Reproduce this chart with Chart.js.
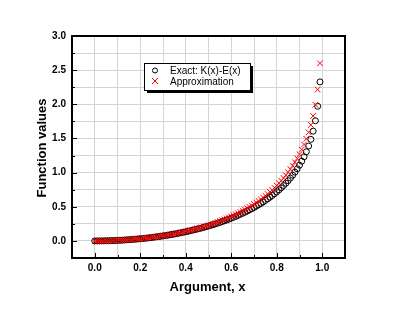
<!DOCTYPE html>
<html><head><meta charset="utf-8">
<script src="https://cdn.jsdelivr.net/npm/chart.js@4.4.1/dist/chart.umd.min.js"></script>
<style>html,body{margin:0;padding:0;background:#fff;}#wrap{width:400px;height:309px;position:relative;}</style>
</head><body><div id="wrap"><canvas id="c" width="400" height="309"></canvas></div>
<script>
const xValues = [0.00,0.01,0.02,0.03,0.04,0.05,0.06,0.07,0.08,0.09,
 0.10,0.11,0.12,0.13,0.14,0.15,0.16,0.17,0.18,0.19,
 0.20,0.21,0.22,0.23,0.24,0.25,0.26,0.27,0.28,0.29,
 0.30,0.31,0.32,0.33,0.34,0.35,0.36,0.37,0.38,0.39,
 0.40,0.41,0.42,0.43,0.44,0.45,0.46,0.47,0.48,0.49,
 0.50,0.51,0.52,0.53,0.54,0.55,0.56,0.57,0.58,0.59,
 0.60,0.61,0.62,0.63,0.64,0.65,0.66,0.67,0.68,0.69,
 0.70,0.71,0.72,0.73,0.74,0.75,0.76,0.77,0.78,0.79,
 0.80,0.81,0.82,0.83,0.84,0.85,0.86,0.87,0.88,0.89,
 0.90,0.91,0.92,0.93,0.94,0.95,0.96,0.97,0.98,0.99];
const exactValues = [0,0.000,0.000,0.001,0.001,0.002,0.003,0.004,0.005,0.006,
 0.008,0.010,0.011,0.013,0.016,0.018,0.020,0.023,0.026,0.029,
 0.032,0.035,0.039,0.042,0.046,0.050,0.055,0.059,0.063,0.068,
 0.073,0.078,0.084,0.089,0.095,0.101,0.107,0.114,0.120,0.127,
 0.134,0.141,0.149,0.157,0.165,0.173,0.181,0.190,0.199,0.209,
 0.218,0.228,0.238,0.249,0.260,0.271,0.283,0.295,0.307,0.320,
 0.333,0.346,0.360,0.375,0.390,0.405,0.421,0.437,0.454,0.472,
 0.490,0.509,0.529,0.549,0.570,0.593,0.616,0.640,0.665,0.691,
 0.719,0.748,0.779,0.811,0.845,0.882,0.921,0.962,1.007,1.056,
 1.109,1.167,1.232,1.305,1.389,1.487,1.607,1.759,1.971,2.328];
const approxValues = [0,0.000,0.000,0.001,0.001,0.002,0.003,0.004,0.005,0.006,
 0.008,0.010,0.011,0.013,0.016,0.018,0.020,0.023,0.026,0.029,
 0.032,0.036,0.039,0.043,0.047,0.051,0.055,0.060,0.065,0.070,
 0.075,0.080,0.086,0.091,0.097,0.104,0.110,0.117,0.124,0.131,
 0.139,0.147,0.155,0.163,0.172,0.181,0.190,0.199,0.209,0.220,
 0.230,0.241,0.253,0.264,0.276,0.289,0.302,0.315,0.329,0.344,
 0.358,0.374,0.390,0.406,0.423,0.441,0.460,0.479,0.498,0.519,
 0.540,0.563,0.586,0.610,0.635,0.661,0.688,0.717,0.747,0.778,
 0.811,0.845,0.882,0.920,0.961,1.004,1.050,1.099,1.152,1.208,
 1.270,1.338,1.412,1.495,1.590,1.699,1.830,1.993,2.216,2.600];
const xTickLabels = ['0.0','0.2','0.4','0.6','0.8','1.0'];
const yTickLabels = ['0.0','0.5','1.0','1.5','2.0','2.5','3.0'];
const seriesNames = ['Exact: K(x)-E(x)','Approximation'];
const xTitle = 'Argument, x';
const yTitle = 'Function values';

const FONT = '"Liberation Sans", Arial, sans-serif';
function labelFor(v, list){
  for (const s of list){ if (Math.abs(parseFloat(s) - v) < 1e-6) return s; }
  return '';
}
const decorPlugin = {
  id: 'decor',
  afterDraw(chart){
    const ctx = chart.ctx, a = chart.chartArea;
    const xs = chart.scales.x, ys = chart.scales.y;
    ctx.save();
    // inward ticks
    ctx.strokeStyle = '#000'; ctx.lineWidth = 1;
    xs.ticks.forEach(t => {
      const px = Math.round(xs.getPixelForValue(t.value)) + 0.5;
      const len = labelFor(t.value, xTickLabels) ? 5 : 3;
      ctx.beginPath(); ctx.moveTo(px, a.bottom); ctx.lineTo(px, a.bottom - len); ctx.stroke();
    });
    ys.ticks.forEach(t => {
      const py = Math.round(ys.getPixelForValue(t.value)) + 0.5;
      const len = labelFor(t.value, yTickLabels) ? 5 : 3;
      ctx.beginPath(); ctx.moveTo(a.left, py); ctx.lineTo(a.left + len, py); ctx.stroke();
    });
    // frame
    ctx.lineWidth = 2;
    ctx.strokeRect(a.left, a.top, a.right - a.left, a.bottom - a.top);
    // axis titles
    ctx.fillStyle = '#000';
    ctx.font = 'bold 13px ' + FONT;
    ctx.textAlign = 'center'; ctx.textBaseline = 'middle';
    ctx.fillText(xTitle, (a.left + a.right) / 2 - 1, 287);
    ctx.save();
    ctx.translate(42, (a.top + a.bottom) / 2 + 1);
    ctx.rotate(-Math.PI / 2);
    ctx.fillText(yTitle, 0, 0);
    ctx.restore();
    // legend box
    const bx = 144, by = 63, bw = 106, bh = 27;
    ctx.fillStyle = '#000';
    ctx.fillRect(bx + 3, by + 3, bw, bh);
    ctx.fillStyle = '#fff';
    ctx.fillRect(bx, by, bw, bh);
    ctx.lineWidth = 1; ctx.strokeStyle = '#000';
    ctx.strokeRect(bx + 0.5, by + 0.5, bw, bh);
    ctx.beginPath(); ctx.arc(155, 70.5, 2.5, 0, Math.PI * 2); ctx.stroke();
    ctx.strokeStyle = '#ff0000';
    ctx.beginPath(); ctx.moveTo(152, 78); ctx.lineTo(158, 84); ctx.moveTo(158, 78); ctx.lineTo(152, 84); ctx.stroke();
    ctx.fillStyle = '#000';
    ctx.font = '10px ' + FONT;
    ctx.textAlign = 'left';
    ctx.fillText(seriesNames[0], 170, 71);
    ctx.fillText(seriesNames[1], 170, 82);
    ctx.restore();
  }
};

new Chart(document.getElementById('c'), {
  type: 'scatter',
  data: {
    datasets: [
      { label: seriesNames[0], data: xValues.map((x, i) => ({x, y: exactValues[i]})),
        pointStyle: 'circle', radius: 3, borderColor: '#000', backgroundColor: 'rgba(0,0,0,0)', borderWidth: 1, order: 1 },
      { label: seriesNames[1], data: xValues.map((x, i) => ({x, y: approxValues[i]})),
        pointStyle: 'crossRot', radius: 4, borderColor: '#ff0000', backgroundColor: 'rgba(0,0,0,0)', borderWidth: 1, order: 0 }
    ]
  },
  options: {
    responsive: false, animation: false, devicePixelRatio: 1,
    layout: { padding: { left: 0, right: 55, top: 36, bottom: 0 } },
    plugins: { legend: { display: false }, tooltip: { enabled: false } },
    scales: {
      x: {
        type: 'linear', min: -0.1, max: 1.1,
        afterFit: s => { s.height = 51; },
        border: { display: false },
        grid: { color: '#d4d4d4', lineWidth: 1, drawTicks: false },
        ticks: { stepSize: 0.1, autoSkip: false, maxRotation: 0, padding: 4, color: '#000',
          font: { family: FONT, size: 10, weight: 'bold' },
          callback: v => labelFor(v, xTickLabels) }
      },
      y: {
        type: 'linear', min: -0.25, max: 3.0,
        afterFit: s => { s.width = 72; },
        border: { display: false },
        grid: { color: '#d4d4d4', lineWidth: 1, drawTicks: false },
        ticks: { stepSize: 0.25, autoSkip: false, padding: 6, color: '#000',
          font: { family: FONT, size: 10, weight: 'bold' },
          callback: v => labelFor(v, yTickLabels) }
      }
    }
  },
  plugins: [decorPlugin]
});
</script></body></html>
